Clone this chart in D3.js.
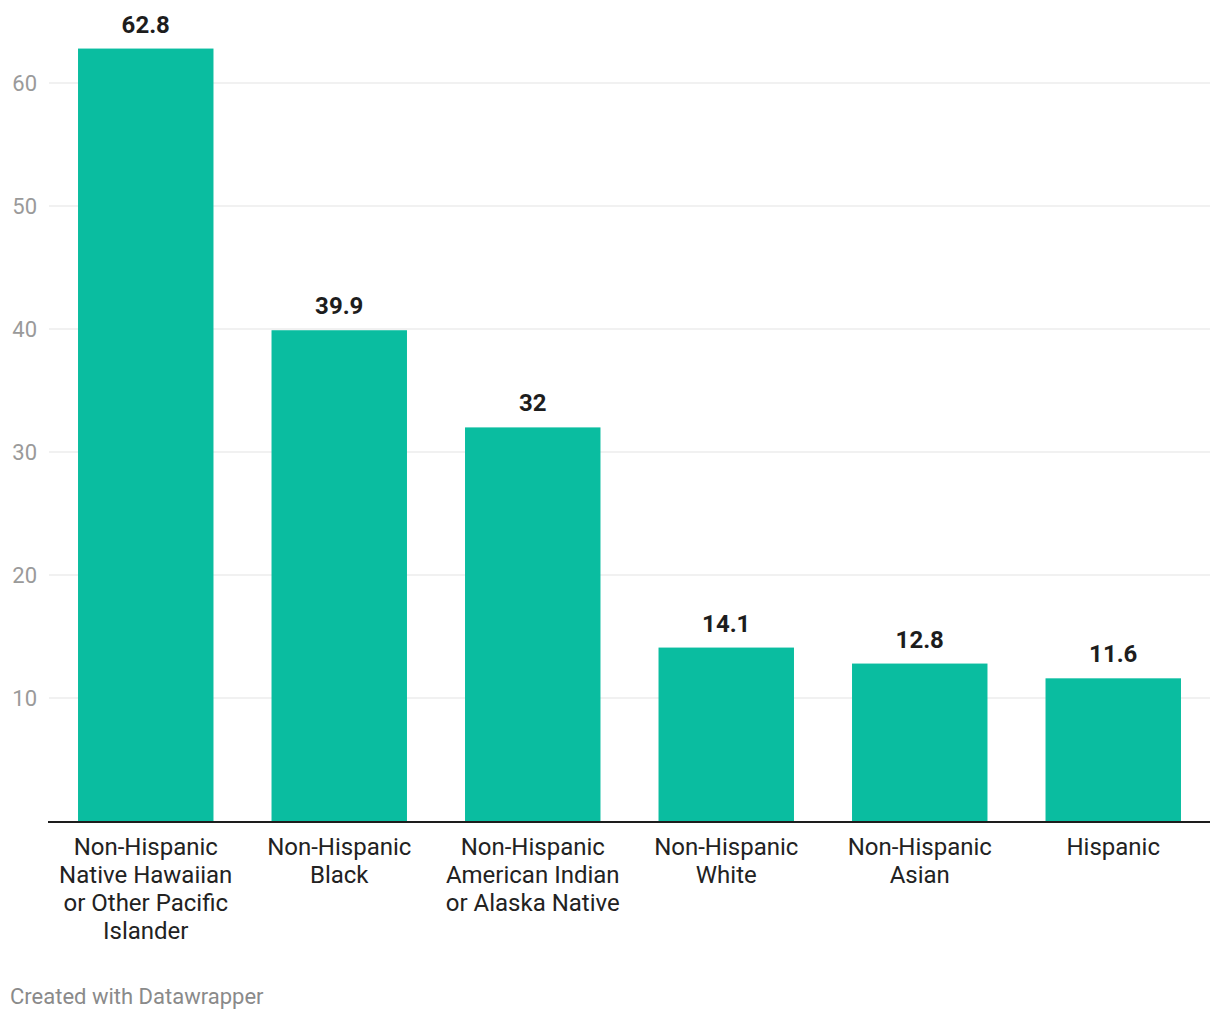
<!DOCTYPE html>
<html>
<head>
<meta charset="utf-8">
<script src="https://cdn.jsdelivr.net/npm/d3@7"></script>
<style>
  body { margin: 0; background: #fff; font-family: Roboto, sans-serif; }
</style>
</head>
<body>
<div id="chart"></div>
<script>
const categories = [
  ['Non-Hispanic', 'Native Hawaiian', 'or Other Pacific', 'Islander'],
  ['Non-Hispanic', 'Black'],
  ['Non-Hispanic', 'American Indian', 'or Alaska Native'],
  ['Non-Hispanic', 'White'],
  ['Non-Hispanic', 'Asian'],
  ['Hispanic']
];
const values = [62.8, 39.9, 32, 14.1, 12.8, 11.6];
const yTicks = [10, 20, 30, 40, 50, 60];

const width = 1220, height = 1020;
const margin = { top: 48, right: 10, bottom: 199, left: 49 };

const svg = d3.select('#chart').append('svg')
  .attr('width', width)
  .attr('height', height);

const x = d3.scaleBand()
  .domain(d3.range(values.length))
  .range([margin.left, width - margin.right])
  .paddingInner(0.3)
  .paddingOuter(0.15);

const y = d3.scaleLinear()
  .domain([0, 60])
  .range([height - margin.bottom, 83]);

// gridlines + tick labels
const grid = svg.append('g');
grid.selectAll('line')
  .data(yTicks)
  .enter()
  .append('line')
  .attr('x1', margin.left)
  .attr('x2', width - margin.right)
  .attr('y1', (d) => y(d))
  .attr('y2', (d) => y(d))
  .style('stroke', '#e3e3e3')
  .style('stroke-width', 1);

grid.selectAll('text')
  .data(yTicks)
  .enter()
  .append('text')
  .attr('x', 37)
  .attr('y', (d) => y(d))
  .attr('dy', '0.35em')
  .attr('text-anchor', 'end')
  .style('font-size', '22px')
  .style('fill', '#9a9a9a')
  .text((d) => d);

// bars
svg.selectAll('rect.bar')
  .data(values)
  .enter()
  .append('rect')
  .attr('class', 'bar')
  .attr('x', (d, i) => x(i))
  .attr('width', x.bandwidth())
  .attr('y', (d) => y(d))
  .attr('height', (d) => y(0) - y(d))
  .style('fill', '#0abda0');

// value labels
svg.selectAll('text.val')
  .data(values)
  .enter()
  .append('text')
  .attr('class', 'val')
  .attr('x', (d, i) => x(i) + x.bandwidth() / 2)
  .attr('y', (d) => y(d) - 16)
  .attr('text-anchor', 'middle')
  .style('font-size', '24px')
  .style('font-weight', 'bold')
  .style('fill', '#1d1d1d')
  .text((d) => d);

// baseline
svg.append('line')
  .attr('x1', margin.left - 1)
  .attr('x2', width - margin.right)
  .attr('y1', y(0) + 1)
  .attr('y2', y(0) + 1)
  .style('stroke', '#1d1d1d')
  .style('stroke-width', 2);

// category labels
const labels = svg.selectAll('text.cat')
  .data(categories)
  .enter()
  .append('text')
  .attr('class', 'cat')
  .attr('text-anchor', 'middle')
  .style('font-size', '24px')
  .style('fill', '#222');

labels.selectAll('tspan')
  .data((d, i) => d.map((line) => ({ line, i })))
  .enter()
  .append('tspan')
  .attr('x', (d) => x(d.i) + x.bandwidth() / 2)
  .attr('y', (d, j) => 855 + j * 28)
  .text((d) => d.line);

// footer
svg.append('text')
  .attr('x', 10)
  .attr('y', 1004)
  .style('font-size', '22px')
  .style('fill', '#8a8a8a')
  .text('Created with Datawrapper');
</script>
</body>
</html>
